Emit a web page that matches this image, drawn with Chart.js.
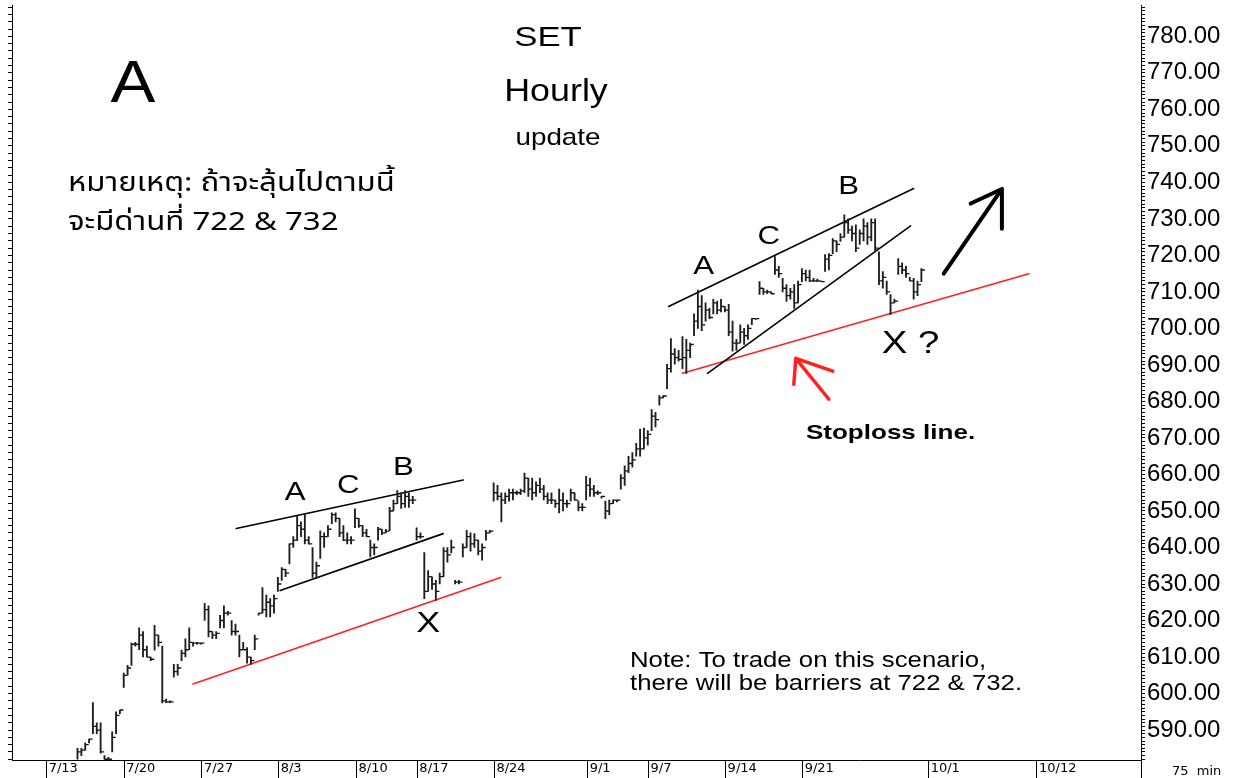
<!DOCTYPE html>
<html>
<head>
<meta charset="utf-8">
<script src="https://cdn.jsdelivr.net/npm/chart.js@4.4.0/dist/chart.umd.min.js"></script>
<style>
  html, body { margin: 0; padding: 0; background: #fff; }
  #wrap { width: 1245px; height: 778px; }
</style>
</head>
<body>
<div id="wrap"><canvas id="setChart" width="1245" height="778"></canvas></div>
<script>
// hourly (75 min) bars, first visible bar sits at index 17
const startIndex = 17;
const highs = [
  585, 585, 586.5, 587.5, 597.5, 592, 592, 583, 582.5, 589.5,
  595, 595.5, 605.6, 607.7, 613.8, 614, 618, 617, 613, 610,
  618.7, 616, 613, 598.5, 598, 608, 608, 611.9, 615, 618,
  614, 614, 613.8, 624.7, 624, 617, 617, 621.4, 624, 622.5,
  620, 619, 616, 614, 612.6, 610, 616, 622, 629, 627,
  626, 627, 631.8, 634.5, 634, 641, 643, 648.7, 647, 649.3,
  643, 640, 636, 644.6, 644, 646, 649.5, 649.5, 648, 646,
  644, 643, 650.6, 648, 646, 645, 642, 641, 645.5, 645,
  645, 651, 653, 655.6, 655, 655.6, 655, 654, 645.4, 644,
  638.6, 633.7, 632, 631, 633, 640, 640, 642, 631, 631,
  641, 644.7, 644, 643.8, 642, 641, 644.7, 644.7, 657.7, 657,
  655, 655, 656, 656, 655.5, 656, 660.4, 659, 659, 658,
  659, 657, 655, 655, 653, 656, 655, 653, 656, 655,
  652.7, 652, 659.5, 659, 657, 655.5, 654, 652.7, 653, 653,
  653, 660, 662.4, 665, 666, 668.5, 672.4, 672.7, 672, 677.8,
  677, 681.6, 681.6, 690.2, 697.2, 694.5, 694, 697.8, 697, 696,
  704, 710.5, 709, 707, 705.5, 708, 707.5, 708, 706, 706.6,
  702, 697, 701, 700, 701, 702.7, 702.7, 712.8, 711, 710.5,
  710, 719.7, 717, 713.7, 712, 711, 712, 713, 716.4, 716,
  716, 713.7, 713.5, 713, 720.2, 720.5, 724.6, 724, 726, 731.1,
  730, 728, 728.4, 727, 730, 729, 730, 730, 721, 715.6,
  713, 709.3, 708, 719.1, 718, 717, 714, 713.7, 713, 716.4
];
const lows = [
  582, 583, 584.5, 586.5, 589, 589, 583.7, 582, 582, 584,
  589, 594.5, 601.7, 605, 607.7, 613, 612, 610, 610, 609,
  611.9, 613, 597.4, 597.5, 597.5, 604.5, 605, 609, 610, 612,
  613, 613.5, 613.5, 620, 615.5, 615, 615, 618, 618, 621.5,
  616, 616, 610, 612, 608.3, 608, 612, 621.5, 622, 621,
  621, 622, 628, 631, 632, 635.5, 640, 641.9, 643, 641,
  641, 631.8, 631.5, 637, 640, 643, 646.5, 647, 643, 641.9,
  641, 641, 645.4, 645.5, 643, 643, 637.4, 638, 642, 643.5,
  644, 644.6, 650, 652, 650.7, 651, 651, 652, 642, 642.5,
  626, 628, 628.5, 625.5, 630, 632, 636, 638.5, 630, 630,
  637.4, 640, 639, 640, 638, 636.5, 642, 644, 652.7, 653,
  647, 652, 652.7, 653, 654.5, 654.5, 655, 654, 653, 654,
  655, 653, 652, 652, 651, 649.5, 650, 651, 652.7, 653,
  650, 650, 653, 654, 654, 654.5, 653.5, 647.9, 649, 652,
  652.5, 656, 657, 660.5, 662, 665, 665, 667, 668, 672,
  673, 679, 681, 683.5, 688, 690.2, 691, 689, 687.7, 692,
  698, 700, 699.4, 702, 702.7, 704, 704, 704.5, 704.5, 698,
  693.8, 694, 696, 695.6, 697, 701, 702.5, 709.3, 709.3, 709.5,
  709.5, 714.8, 714, 710, 707.4, 708, 705.5, 707, 712.8, 713,
  712.8, 712.8, 712.8, 712.8, 715.6, 716, 720.5, 721, 723.8, 725,
  726, 724, 721, 723, 724, 723, 724, 721, 712, 711,
  709.3, 703.8, 707, 714.8, 715, 714, 713, 708, 709, 712.8
];
const closes = [
  584, 584.5, 586, 587.5, 591, 590, 584, 582, 582, 588,
  594, 595.5, 605, 607, 613.5, 613.5, 616, 612, 610, 609.4,
  616, 614, 598, 597.7, 597.7, 606, 607, 611, 612, 614,
  613.8, 613.8, 613.8, 623, 617, 616, 616.5, 620, 622, 622,
  617, 617, 612, 612, 610, 609, 615, 622, 623, 625,
  624, 626, 630, 634, 633, 641, 642, 646, 645, 642,
  641, 633, 635, 643, 643, 645, 649, 648, 644, 642,
  642, 642, 648, 646, 644, 643, 640, 640, 645, 644,
  644.5, 650, 652, 654, 652, 654, 653, 653, 643, 643,
  628, 632, 630, 628, 632, 639, 638, 640, 630.5, 630.5,
  640, 643, 641, 642, 639, 640, 644, 644.5, 655, 654,
  653, 654, 655, 655, 655, 655.5, 659, 656, 655, 657,
  656, 654, 653, 653, 652, 653, 652, 652, 655, 653,
  651, 651, 657, 656, 655, 655, 654, 650, 652, 653,
  653, 659, 661, 663, 664, 667, 667, 670, 671, 676,
  675, 681, 681.5, 689, 693, 692, 691.5, 692, 694, 695.6,
  702, 706, 701, 705, 703, 707, 705, 706, 705, 699,
  696, 696, 699, 698, 700, 702.7, 702.7, 711, 710, 710,
  709.5, 716, 715, 711, 709, 710, 707, 712, 715, 714,
  713, 713, 713, 712.8, 719, 720, 724, 723, 725, 729,
  727, 726, 722, 726, 728, 725, 729, 722, 713, 714,
  710, 707, 707.5, 717, 716, 715, 713, 710, 712, 716
];

// x axis: bar index of each date tick
const dateTicks = [9.0, 29.1, 49.3, 69.2, 89.4, 105.2, 125.2, 149.4, 165.2, 185.2, 205.2, 237.9, 266.0];
const dateLabels = ['7/13', '7/20', '7/27', '8/3', '8/10', '8/17', '8/24', '9/1', '9/7', '9/14', '9/21', '10/1', '10/12'];
const priceLabels = [590, 600, 610, 620, 630, 640, 650, 660, 670, 680, 690, 700, 710, 720, 730, 740, 750, 760, 770, 780];

// drawn trend lines [bar index, price]
const leftUpper = [[58.2, 645.2], [117.1, 658.5]];
const leftLower = [[69.6, 628.2], [111.9, 643.8]];
const leftStop = [[47.0, 602.6], [126.8, 631.8]];
const rightUpper = [[170.4, 706.0], [234.0, 738.3]];
const rightLower = [[180.5, 687.7], [233.2, 728.1]];
const rightStop = [[174.0, 687.7], [263.9, 715.0]];
const upArrow = [[241.8, 715.0], [256.9, 738.2], [248.8, 734.2], [256.9, 738.2], [256.9, 727.3]];
const stopArrow = [[212.0, 680.6], [203.4, 691.8], [213.0, 688.3], [203.4, 691.8], [202.9, 684.7]];

// wave letters [text, bar index, price, size]
const waveLabels = [
  ['A', 73.5, 655.0, 26], ['C', 87.3, 656.9, 26], ['B', 101.6, 661.8, 26], ['X', 108.0, 619.0, 30],
  ['A', 179.5, 717.0, 26], ['C', 196.4, 725.1, 26], ['B', 217.1, 738.8, 26], ['X ?', 233.2, 695.7, 32]
];

const bars = highs.map((h, k) => ({ x: startIndex + k, y: [lows[k], h] }));
const closeTicks = closes.map((c, k) => ({ x: startIndex + k + 0.45, y: c }));
const pts = arr => arr.map(p => ({ x: p[0], y: p[1] }));

function lineSet(arr, color, width) {
  return {
    type: 'line', data: pts(arr), borderColor: color, borderWidth: width,
    pointRadius: 0, tension: 0, fill: false, borderCapStyle: 'round', borderJoinStyle: 'round'
  };
}

const SANS = '"Liberation Sans", Arial, sans-serif';
const THAI = 'Tahoma, "Noto Sans Thai", Loma, Garuda, "Liberation Sans", sans-serif';

function putText(ctx, text, x, y, font, align, sx) {
  ctx.save();
  ctx.font = font;
  ctx.fillStyle = '#000';
  ctx.textAlign = align;
  ctx.textBaseline = 'middle';
  ctx.translate(x, y);
  ctx.scale(sx || 1.12, 1);
  ctx.fillText(text, 0, 0);
  ctx.restore();
}

function noPad(s) {
  s.paddingTop = 0; s.paddingBottom = 0; s.paddingLeft = 0; s.paddingRight = 0;
}

const notes = {
  id: 'notes',
  afterDraw(chart) {
    const ctx = chart.ctx;
    const xs = chart.scales.x, ys = chart.scales.y;
    const area = chart.chartArea;

    // right axis line runs down past the date row
    ctx.save();
    ctx.strokeStyle = '#000';
    ctx.lineWidth = 1;
    ctx.beginPath();
    ctx.moveTo(Math.round(area.right) + 0.5, area.bottom);
    ctx.lineTo(Math.round(area.right) + 0.5, chart.height);
    ctx.stroke();
    ctx.restore();

    putText(ctx, 'SET', 548, 38, '28px ' + SANS, 'center', 1.24);
    putText(ctx, 'Hourly', 556, 92, '32px ' + SANS, 'center');
    putText(ctx, 'update', 558, 138, '24px ' + SANS, 'center', 1.16);
    putText(ctx, 'A', 133, 85, '60px ' + SANS, 'center');
    putText(ctx, 'หมายเหตุ: ถ้าจะลุ้นไปตามนี้', 68, 186, '26px ' + THAI, 'left', 1.2);
    putText(ctx, 'จะมีด่านที่ 722 & 732', 68, 225, '26px ' + THAI, 'left', 1.2);
    putText(ctx, 'Note: To trade on this scenario,', 630, 661, '22px ' + SANS, 'left', 1.17);
    putText(ctx, 'there will be barriers at 722 & 732.', 630, 684, '22px ' + SANS, 'left', 1.17);
    putText(ctx, '75  min', 1172, 772, '13px "DejaVu Sans", sans-serif', 'left', 1.0);

    waveLabels.forEach(w => {
      putText(ctx, w[0], xs.getPixelForValue(w[1]), ys.getPixelForValue(w[2]), w[3] + 'px ' + SANS, 'center', 1.2);
    });
    putText(ctx, 'Stoploss line.', xs.getPixelForValue(228), ys.getPixelForValue(671.4), 'bold 21px ' + SANS, 'center', 1.24);
  }
};

new Chart(document.getElementById('setChart').getContext('2d'), {
  type: 'bar',
  data: {
    datasets: [
      { type: 'bar', data: bars, backgroundColor: '#1e1e1e', barThickness: 1.2, grouped: false },
      {
        type: 'line', data: closeTicks, showLine: false, pointStyle: 'line',
        pointRadius: 1.8, borderColor: '#111', borderWidth: 1.3
      },
      lineSet(leftUpper, '#000', 1.6),
      lineSet(leftLower, '#000', 1.6),
      lineSet(rightUpper, '#000', 1.6),
      lineSet(rightLower, '#000', 1.6),
      lineSet(leftStop, '#ff2020', 1.6),
      lineSet(rightStop, '#ff2020', 1.6),
      lineSet(upArrow, '#000', 4),
      lineSet(stopArrow, '#ff2020', 3.5)
    ]
  },
  options: {
    responsive: false,
    animation: false,
    events: [],
    layout: { padding: 0 },
    plugins: { legend: { display: false }, tooltip: { enabled: false } },
    scales: {
      x: {
        type: 'linear', position: 'bottom', min: 0, max: 293, offset: false,
        afterBuildTicks: s => { s.ticks = dateTicks.map(v => ({ value: v })); },
        afterFit: s => { s.height = 18; noPad(s); },
        grid: { drawOnChartArea: false, offset: false, tickLength: 18, color: '#000' },
        border: { color: '#000', width: 1 },
        ticks: {
          autoSkip: false, maxRotation: 0, align: 'start', padding: -17, labelOffset: 2,
          color: '#000', font: { family: '"DejaVu Sans", Verdana, sans-serif', size: 13 },
          callback: (v, i) => dateLabels[i]
        }
      },
      y: {
        type: 'linear', position: 'right', min: 581.8, max: 788.5,
        afterBuildTicks: s => {
          const t = [];
          for (let v = 582; v <= 788; v++) t.push({ value: v });
          s.ticks = t;
        },
        afterFit: s => { s.width = 104; noPad(s); },
        grid: { drawOnChartArea: false, tickLength: 4, color: '#000' },
        border: { color: '#000', width: 1 },
        ticks: {
          autoSkip: false, padding: 2, color: '#000',
          font: { family: SANS, size: 24 },
          callback: v => priceLabels.includes(v) ? v.toFixed(2) : ''
        }
      },
      yLeft: {
        type: 'linear', position: 'left', min: 581.8, max: 788.5,
        afterBuildTicks: s => {
          const t = [];
          for (let v = 582; v <= 788; v += 2) t.push({ value: v });
          s.ticks = t;
        },
        afterFit: s => { s.width = 12; noPad(s); },
        grid: { drawOnChartArea: false, tickLength: 4, color: '#000' },
        border: { color: '#000', width: 1 },
        ticks: { autoSkip: false, padding: 0, callback: () => '' }
      }
    }
  },
  plugins: [notes]
});
</script>
</body>
</html>
